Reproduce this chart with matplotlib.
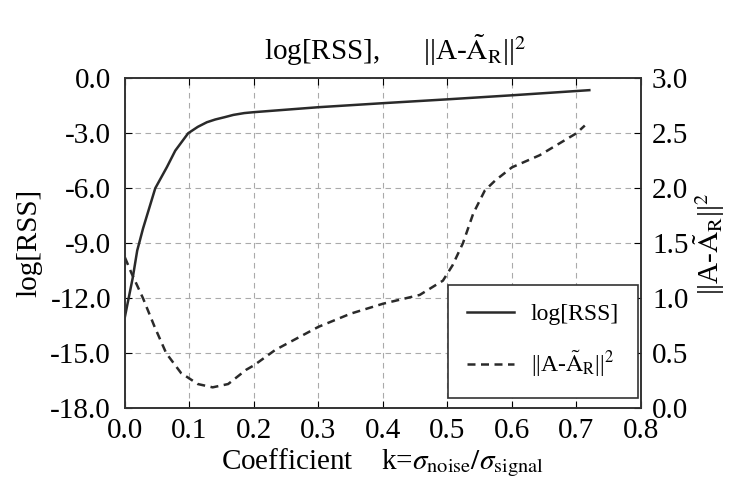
import numpy as np
import matplotlib
matplotlib.use("Agg")
import matplotlib.pyplot as plt

plt.rcParams['font.family'] = ['Liberation Serif', 'DejaVu Serif']
plt.rcParams['mathtext.fontset'] = 'stix'

# log[RSS] curve (left axis)
k_rss = [0.0, 0.012, 0.019, 0.028, 0.047, 0.065, 0.078, 0.098, 0.113, 0.127,
         0.14, 0.155, 0.168, 0.185, 0.2, 0.3, 0.4, 0.5, 0.6, 0.72]
rss = [-13.0, -10.9, -9.4, -8.2, -6.0, -4.85, -3.95, -3.0, -2.65, -2.4,
       -2.25, -2.12, -2.0, -1.9, -1.85, -1.58, -1.36, -1.15, -0.93, -0.65]

# ||A - A_R||^2 curve (right axis)
k_err = [0.0, 0.01, 0.028, 0.046, 0.064, 0.087, 0.113, 0.136, 0.16, 0.188,
         0.2, 0.233, 0.3, 0.35, 0.4, 0.457, 0.493, 0.508, 0.524, 0.54,
         0.558, 0.574, 0.6, 0.643, 0.7, 0.713]
err = [1.37, 1.23, 1.0, 0.74, 0.5, 0.32, 0.22, 0.19, 0.22, 0.35,
       0.39, 0.53, 0.74, 0.86, 0.95, 1.03, 1.16, 1.3, 1.5, 1.77,
       1.98, 2.07, 2.19, 2.3, 2.5, 2.57]

x_ticks = [0.0, 0.1, 0.2, 0.3, 0.4, 0.5, 0.6, 0.7, 0.8]
left_ticks = [0.0, -3.0, -6.0, -9.0, -12.0, -15.0, -18.0]
right_ticks = [0.0, 0.5, 1.0, 1.5, 2.0, 2.5, 3.0]

norm_lbl = r"||A-$\tilde{\mathrm{A}}_{\mathrm{R}}$||$^2$"

fs = 21
ink = '#2a2a2a'
fig = plt.figure(figsize=(7.35, 4.86), dpi=100)
ax = fig.add_axes([0.170, 0.160, 0.702, 0.679])
ax2 = ax.twinx()

l1, = ax.plot(k_rss, rss, color=ink, lw=1.8, label='log[RSS]')
l2, = ax2.plot(k_err, err, color=ink, lw=1.8, ls=(0, (3.2, 2.2)), label=norm_lbl)

ax.set_xlim(0, 0.8)
ax.set_ylim(-18, 0)
ax2.set_ylim(0, 3)
ax.set_xticks(x_ticks)
ax.set_yticks(left_ticks)
ax2.set_yticks(right_ticks)
ax.set_xticklabels([f"{v:.1f}" for v in x_ticks])
ax.set_yticklabels([f"{v:.1f}" for v in left_ticks])
ax2.set_yticklabels([f"{v:.1f}" for v in right_ticks])

ax.grid(True, ls=(0, (5, 4)), color='#aaaaaa', lw=0.8)
ax.tick_params(axis='x', direction='in', labelsize=fs, top=True, length=5, pad=7)
ax.tick_params(axis='y', direction='in', labelsize=fs, length=5, pad=10)
ax2.tick_params(direction='in', labelsize=fs, length=5, pad=8)
for a in (ax, ax2):
    for s in a.spines.values():
        s.set_color('#333333')
        s.set_linewidth(1.2)

ax.set_ylabel('log[RSS]', fontsize=fs, labelpad=6)
ax2.set_ylabel(norm_lbl, fontsize=fs, labelpad=2)
ax.set_xlabel(r"Coefficient    k=$\sigma_{\mathrm{noise}}/\sigma_{\mathrm{signal}}$",
              fontsize=fs, labelpad=2)

fig.text(0.537, 0.897, r"log[RSS],      ||A-$\tilde{\mathrm{A}}_{\mathrm{R}}$||$^2$",
         fontsize=fs, ha='center', va='center')

leg = ax2.legend([l1, l2], ['log[RSS]', norm_lbl], loc='lower right',
                 bbox_to_anchor=(0.994, 0.03), borderaxespad=0, fontsize=17,
                 fancybox=False, framealpha=1, edgecolor='#333333',
                 handlelength=2.0, handletextpad=0.7, labelspacing=1.0,
                 borderpad=0.8)
leg.get_frame().set_linewidth(1.2)

fig.savefig('out.png', dpi=100)
